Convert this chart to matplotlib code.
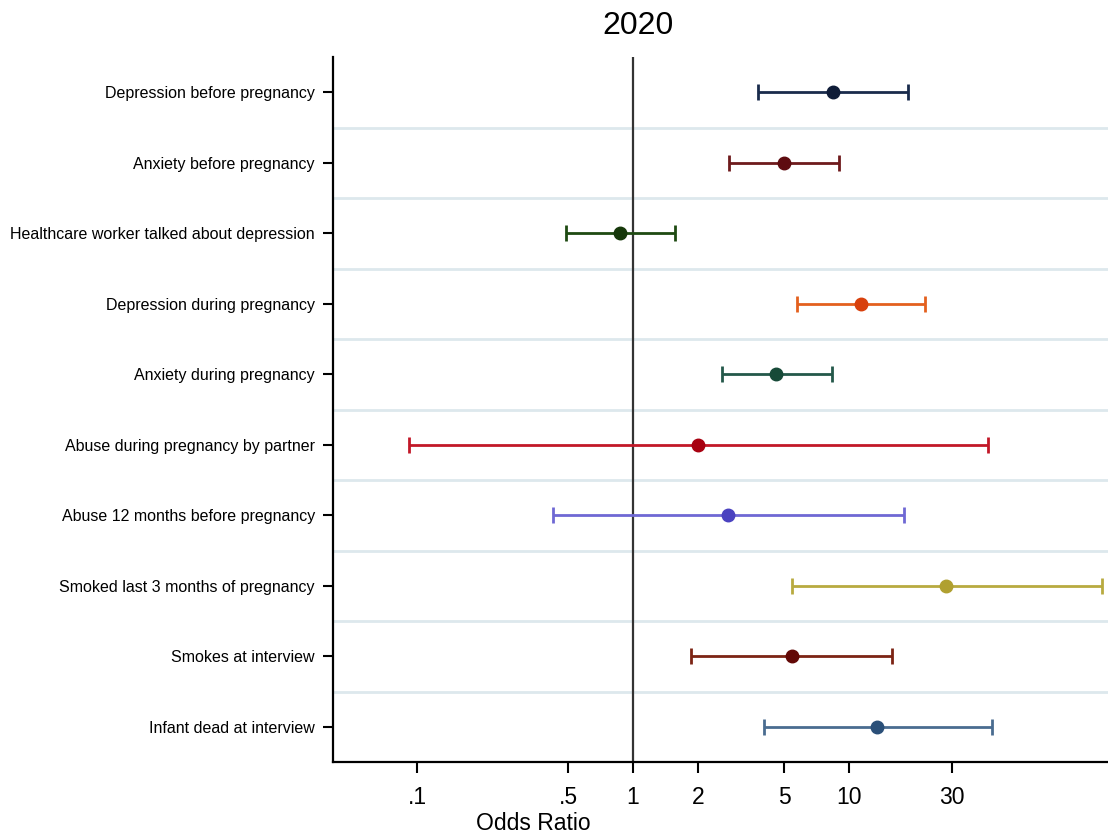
import matplotlib
matplotlib.use("Agg")
import matplotlib.pyplot as plt
from matplotlib import font_manager

labels = [
    "Depression before pregnancy",
    "Anxiety before pregnancy",
    "Healthcare worker talked about depression",
    "Depression during pregnancy",
    "Anxiety during pregnancy",
    "Abuse during pregnancy by partner",
    "Abuse 12 months before pregnancy",
    "Smoked last 3 months of pregnancy",
    "Smokes at interview",
    "Infant dead at interview",
]
odds_ratio = [8.4, 5.0, 0.87, 11.4, 4.6, 2.0, 2.75, 28.0, 5.45, 13.5]
ci_low = [3.8, 2.78, 0.49, 5.75, 2.58, 0.092, 0.426, 5.45, 1.86, 4.05]
ci_high = [18.8, 9.0, 1.56, 22.5, 8.3, 44.0, 18.0, 148.0, 15.8, 46.0]
line_colors = ["#1a2b4c", "#6e1a1c", "#1e4a12", "#e3601e", "#24584a",
               "#c21828", "#6f68d4", "#b8aa40", "#7c2414", "#4a6c90"]
dot_colors = ["#0f1c38", "#5e0c10", "#16380a", "#d8400c", "#174a38",
              "#a80010", "#4a42c0", "#b0a030", "#620806", "#2a4f78"]
xtick_values = [0.1, 0.5, 1, 2, 5, 10, 30]
xtick_labels = [".1", ".5", "1", "2", "5", "10", "30"]

names = {f.name for f in font_manager.fontManager.ttflist}
narrow = "Liberation Sans Narrow" if "Liberation Sans Narrow" in names else "Liberation Sans"

fig = plt.figure(figsize=(11.08, 8.36), dpi=100)
W, H = 1108, 836
ax = fig.add_axes([333 / W, 1 - 762 / H, (W - 333) / W, (762 - 57) / H])

n = len(labels)
ypos = list(range(1, n + 1))

for yv in range(1, n):
    ax.axhline(yv + 0.5, color="#dde8ed", lw=2, zorder=0)

ax.axvline(1, color="#333333", lw=1.6, zorder=1)

for i in range(n):
    ax.errorbar(odds_ratio[i], ypos[i],
                xerr=[[odds_ratio[i] - ci_low[i]], [ci_high[i] - odds_ratio[i]]],
                fmt="none", ecolor=line_colors[i], elinewidth=2, capsize=5.5,
                capthick=2, zorder=2)
    ax.plot(odds_ratio[i], ypos[i], "o", color=dot_colors[i], ms=9, zorder=3)

ax.set_xscale("log")
ax.set_xlim(0.0408, 158)
ax.set_ylim(n + 0.5, 0.5)
ax.set_xticks(xtick_values)
ax.set_xticklabels(xtick_labels, fontname=narrow, fontsize=16.5)
ax.xaxis.set_minor_locator(matplotlib.ticker.NullLocator())
ax.set_yticks(ypos)
ax.set_yticklabels(labels, fontname="Liberation Sans", fontsize=11.5)
ax.tick_params(axis="x", length=8, width=1.5, pad=9)
ax.tick_params(axis="y", length=7, width=1.5, pad=6)

for s in ["top", "right"]:
    ax.spines[s].set_visible(False)
for s in ["left", "bottom"]:
    ax.spines[s].set_linewidth(1.6)

fig.text(638 / W, 1 - 26 / H, "2020", ha="center", va="center",
         fontname="Liberation Sans", fontsize=23)
fig.text(533 / W, 1 - 823 / H, "Odds Ratio", ha="center", va="center",
         fontname=narrow, fontsize=16.5)

fig.savefig("out.png", dpi=100)
